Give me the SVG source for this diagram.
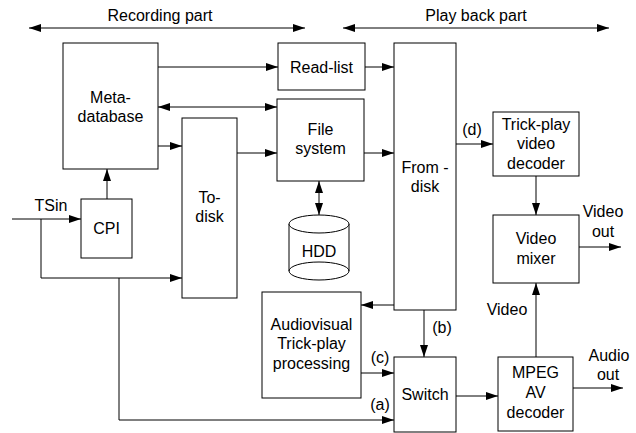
<svg xmlns="http://www.w3.org/2000/svg" width="636" height="433" viewBox="0 0 636 433">
<style>
.box{fill:#fff;stroke:#000;stroke-width:1}
.ln{fill:none;stroke:#000;stroke-width:1}
.a{marker-end:url(#ah)}
.d{marker-start:url(#ah);marker-end:url(#ah)}
text{font-family:"Liberation Sans",Arial,sans-serif;font-size:16px;fill:#000;text-anchor:middle}
</style>
<defs>
<marker id="ah" viewBox="0 0 12 8" refX="12" refY="4" markerWidth="12" markerHeight="8" markerUnits="userSpaceOnUse" orient="auto-start-reverse">
<path d="M0,0 L12,4 L0,8 z" fill="#000"/>
</marker>
</defs>
<rect width="636" height="433" fill="#fff"/>
<g id="headers">
<text x="160" y="21">Recording part</text>
<text x="476" y="21">Play back part</text>
</g>
<g id="connectors">
<path class="ln d" d="M29,28 H305"/>
<path class="ln d" d="M343,28 H609"/>
<path class="ln a" d="M158,67 H278"/>
<path class="ln d" d="M158,107 H277"/>
<path class="ln a" d="M158,146 H182"/>
<path class="ln a" d="M237,153 H277"/>
<path class="ln a" d="M107,199 V169"/>
<path class="ln a" d="M12,219 H81"/>
<path class="ln a" d="M41,219 V278 H182"/>
<path class="ln a" d="M119,278 V420 H394"/>
<path class="ln a" d="M365,67 H394"/>
<path class="ln a" d="M364,153 H394"/>
<path class="ln d" d="M319,181 V215"/>
<path class="ln a" d="M456,144 H493"/>
<path class="ln a" d="M536,176 V215"/>
<path class="ln a" d="M579,247 H621"/>
<path class="ln a" d="M394,305 H361"/>
<path class="ln a" d="M424,310 V357"/>
<path class="ln a" d="M361,373 H394"/>
<path class="ln a" d="M456,396 H498"/>
<path class="ln a" d="M536,357 V283"/>
<path class="ln a" d="M573,388 H623"/>
<text x="51" y="211">TSin</text>
<text x="472" y="135">(d)</text>
<text x="442" y="333">(b)</text>
<text x="380" y="363">(c)</text>
<text x="380" y="410">(a)</text>
<text x="603" y="217">Video</text>
<text x="603" y="237">out</text>
<text x="507" y="315">Video</text>
<text x="609" y="361">Audio</text>
<text x="608" y="380">out</text>
</g>
<g id="metadatabase">
<rect class="box" x="63" y="43" width="95" height="126"/>
<text x="110.5" y="103">Meta-</text>
<text x="110.5" y="122">database</text>
</g>
<g id="readlist">
<rect class="box" x="278" y="43" width="87" height="47"/>
<text x="321.5" y="73">Read-list</text>
</g>
<g id="filesystem">
<rect class="box" x="277" y="99" width="87" height="82"/>
<text x="320.5" y="135">File</text>
<text x="320.5" y="154">system</text>
</g>
<g id="todisk">
<rect class="box" x="182" y="118" width="55" height="180"/>
<text x="209.5" y="203">To-</text>
<text x="209.5" y="222">disk</text>
</g>
<g id="cpi">
<rect class="box" x="81" y="199" width="51" height="59"/>
<text x="106.5" y="234">CPI</text>
</g>
<g id="hdd">
<path class="box" d="M289,224 V271 A30,9 0 0 0 349,271 V224"/>
<ellipse class="box" cx="319" cy="224" rx="30" ry="9"/>
<path class="ln" d="M289,271 A30,9 0 0 1 349,271"/>
<text x="319" y="257">HDD</text>
</g>
<g id="fromdisk">
<rect class="box" x="394" y="43" width="62" height="267"/>
<text x="425" y="173">From -</text>
<text x="425" y="192">disk</text>
</g>
<g id="trickplaydecoder">
<rect class="box" x="493" y="112" width="86" height="64"/>
<text x="536" y="130">Trick-play</text>
<text x="536" y="149">video</text>
<text x="536" y="169">decoder</text>
</g>
<g id="videomixer">
<rect class="box" x="493" y="215" width="86" height="68"/>
<text x="536" y="244">Video</text>
<text x="536" y="264">mixer</text>
</g>
<g id="audiovisual">
<rect class="box" x="262" y="292" width="99" height="106"/>
<text x="311.5" y="330">Audiovisual</text>
<text x="311.5" y="349">Trick-play</text>
<text x="311.5" y="369">processing</text>
</g>
<g id="switch">
<rect class="box" x="394" y="357" width="62" height="75"/>
<text x="425" y="400">Switch</text>
</g>
<g id="mpeg">
<rect class="box" x="498" y="357" width="75" height="74"/>
<text x="535.5" y="378">MPEG</text>
<text x="535.5" y="398">AV</text>
<text x="535.5" y="418">decoder</text>
</g>
</svg>
